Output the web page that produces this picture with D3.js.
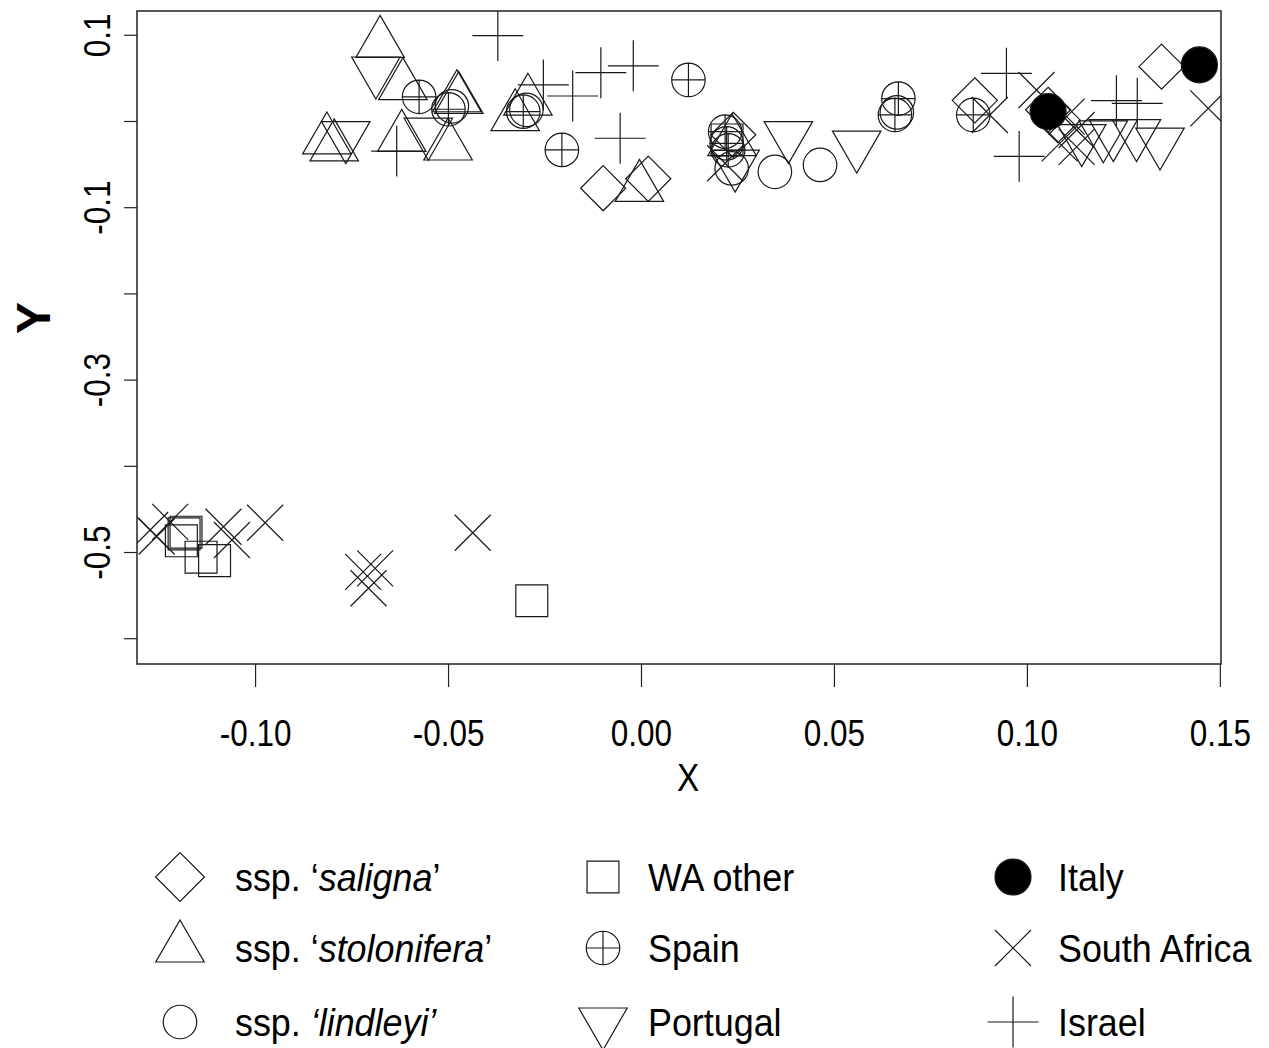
<!DOCTYPE html>
<html>
<head>
<meta charset="utf-8">
<script src="https://cdn.jsdelivr.net/npm/d3@7"></script>
<style>
  html, body { margin: 0; padding: 0; background: #fff; }
  svg { display: block; }
  text { font-family: "Liberation Sans", Arial, sans-serif; fill: #000; }
</style>
</head>
<body>
<script>
// Ordination scores, one array of [X, Y] pairs per group
const saligna = [
  [-0.0098, -0.078], [0.0019, -0.067], [0.0239, -0.016], [0.0865, 0.024],
  [0.1055, 0.013], [0.1080, 0.001], [0.1349, 0.063]
];
const stolonifera = [
  [-0.0676, 0.090], [-0.0617, 0.041], [-0.0814, -0.022], [-0.0795, -0.030],
  [-0.0620, -0.019], [-0.0477, 0.027], [-0.0472, 0.025], [-0.0500, -0.029],
  [-0.0293, 0.023], [-0.0326, 0.005], [-0.0004, -0.077], [0.0236, -0.024]
];
const lindleyi = [
  [-0.0297, 0.013], [-0.0490, 0.017], [0.0235, -0.055], [0.0347, -0.059],
  [0.0464, -0.051], [0.0663, 0.010]
];
const waOther = [
  [-0.1184, -0.479], [-0.1179, -0.477], [-0.1191, -0.487], [-0.1140, -0.506],
  [-0.1105, -0.510], [-0.0283, -0.5565], [0.0223, -0.022]
];
const spain = [
  [-0.0575, 0.028], [-0.0499, 0.0136], [-0.0305, 0.0108], [-0.0205, -0.0336],
  [0.0123, 0.0476], [0.0218, -0.0124], [0.0222, -0.026], [0.0226, -0.034],
  [0.0667, 0.026], [0.0658, 0.007], [0.0861, 0.007]
];
const portugal = [
  [-0.0687, 0.058], [-0.0765, -0.017], [-0.0551, -0.013], [0.0382, -0.017],
  [0.0559, -0.028], [0.0244, -0.050], [0.1142, -0.0205], [0.1198, -0.016],
  [0.1224, -0.0147], [0.1284, -0.0147], [0.1345, -0.0244]
];
const italy = [
  [0.1055, 0.0108], [0.1447, 0.065]
];
const southAfrica = [
  [0.0904, 0.007], [0.1025, 0.036], [0.1103, 0.005], [0.1129, -0.0104],
  [0.1085, -0.026], [0.1129, -0.030], [0.1470, 0.0147], [0.0218, -0.049],
  [-0.0974, -0.466], [-0.0436, -0.4776], [-0.0720, -0.523], [-0.0689, -0.519],
  [-0.0706, -0.542], [-0.1272, -0.4745], [-0.1255, -0.482], [-0.1220, -0.465],
  [-0.1082, -0.4707], [-0.1060, -0.486]
];
const israel = [
  [-0.0371, 0.099], [-0.0253, 0.0418], [-0.0177, 0.029], [-0.0104, 0.056],
  [-0.0020, 0.064], [-0.0054, -0.020], [-0.0633, -0.035], [0.0947, 0.0553],
  [0.0980, -0.041], [0.1232, 0.0236], [0.1286, 0.0205]
];

const xTicks = [-0.10, -0.05, 0.00, 0.05, 0.10, 0.15];
const yTicks = [0.1, 0.0, -0.1, -0.2, -0.3, -0.4, -0.5, -0.6];
// only every other y tick carries a label
const yTickLabels = ["0.1", "", "-0.1", "", "-0.3", "", "-0.5", ""];

const W = 1269, H = 1048;
const plot = { left: 137, right: 1221, top: 11, bottom: 664 };

const x = d3.scaleLinear().domain([-0.1306, 0.1503]).range([plot.left, plot.right]);
const y = d3.scaleLinear().domain([0.1276, -0.6299]).range([plot.top, plot.bottom]);

const svg = d3.select("body").append("svg").attr("width", W).attr("height", H);

svg.append("defs").append("clipPath").attr("id", "plotclip")
  .append("rect")
  .attr("x", plot.left).attr("y", plot.top)
  .attr("width", plot.right - plot.left).attr("height", plot.bottom - plot.top);

// Symbol shapes (R-style pch glyphs), r = symbol radius in px
const R = 18;
const shapes = {
  diamond: r => { const d = 1.253 * r; return `M0,${-d}L${d},0L0,${d}L${-d},0Z`; },
  triUp: r => `M0,${-1.555 * r}L${1.347 * r},${0.778 * r}L${-1.347 * r},${0.778 * r}Z`,
  triDown: r => `M0,${1.555 * r}L${1.347 * r},${-0.778 * r}L${-1.347 * r},${-0.778 * r}Z`,
  circle: r => { const c = r * 0.93; return `M${c},0A${c},${c} 0 1,1 ${-c},0A${c},${c} 0 1,1 ${c},0Z`; },
  square: r => { const s = 0.886 * r; return `M${-s},${-s}H${s}V${s}H${-s}Z`; },
  circlePlus: r => { const c = r * 0.93; return `M${c},0A${c},${c} 0 1,1 ${-c},0A${c},${c} 0 1,1 ${c},0Z M${-c},0H${c} M0,${-c}V${c}`; },
  dot: r => `M${r},0A${r},${r} 0 1,1 ${-r},0A${r},${r} 0 1,1 ${r},0Z`,
  cross: r => `M${-r},${-r}L${r},${r}M${-r},${r}L${r},${-r}`,
  plus: r => { const p = 1.414 * r; return `M${-p},0H${p}M0,${-p}V${p}`; }
};

const groups = [
  { data: saligna, shape: "diamond", fill: "none" },
  { data: stolonifera, shape: "triUp", fill: "none" },
  { data: lindleyi, shape: "circle", fill: "none" },
  { data: waOther, shape: "square", fill: "none" },
  { data: spain, shape: "circlePlus", fill: "none" },
  { data: portugal, shape: "triDown", fill: "none" },
  { data: southAfrica, shape: "cross", fill: "none" },
  { data: israel, shape: "plus", fill: "none" },
  { data: italy, shape: "dot", fill: "#000" }
];

const pts = svg.append("g").attr("clip-path", "url(#plotclip)");
groups.forEach(g => {
  pts.append("g").selectAll("path").data(g.data).join("path")
    .attr("transform", d => `translate(${x(d[0])},${y(d[1])})`)
    .attr("d", shapes[g.shape](R))
    .attr("fill", g.fill)
    .attr("stroke", "#1a1a1a")
    .attr("stroke-width", 1.2);
});

// Plot frame
svg.append("rect")
  .attr("x", plot.left).attr("y", plot.top)
  .attr("width", plot.right - plot.left).attr("height", plot.bottom - plot.top)
  .attr("fill", "none").attr("stroke", "#222").attr("stroke-width", 1.5);

// X axis (ASCII hyphen for negatives)
const xAxis = svg.append("g").attr("transform", `translate(0,${plot.bottom})`)
  .call(d3.axisBottom(x).tickValues(xTicks).tickSize(23).tickFormat(d => d.toFixed(2)));
xAxis.select(".domain").remove();
xAxis.selectAll(".tick line").attr("stroke", "#222").attr("stroke-width", 1.2);
xAxis.selectAll(".tick text")
  .attr("y", 0).attr("dy", 0)
  .attr("transform", "translate(0,69) scale(0.9,1.05)")
  .attr("dominant-baseline", "central")
  .style("font-size", "35px");

// Y axis
const yAxis = svg.append("g").attr("transform", `translate(${plot.left},0)`)
  .call(d3.axisLeft(y).tickValues(yTicks).tickSize(13)
    .tickFormat((d, i) => yTickLabels[i]));
yAxis.select(".domain").remove();
yAxis.selectAll(".tick line").attr("stroke", "#222").attr("stroke-width", 1.2);
yAxis.selectAll(".tick text")
  .attr("x", 0).attr("dy", 0)
  .attr("text-anchor", "middle")
  .attr("dominant-baseline", "central")
  .attr("transform", "translate(-40,0) rotate(-90) scale(0.9,1.05)")
  .style("font-size", "35px");

// Axis titles
svg.append("text")
  .attr("transform", "translate(688,778) scale(0.9,1.05)")
  .attr("text-anchor", "middle").attr("dominant-baseline", "central")
  .style("font-size", "37px").text("X");
svg.append("text")
  .attr("transform", "translate(33,318) rotate(-90)")
  .attr("text-anchor", "middle").attr("dominant-baseline", "central")
  .style("font-size", "48px").style("font-weight", "bold").text("Y");

// Legend
const legendItems = [
  { shape: "diamond", fill: "none", col: 0, row: 0, parts: [["ssp. ‘", false], ["saligna", true], ["’", false]] },
  { shape: "triUp", fill: "none", col: 0, row: 1, parts: [["ssp. ‘", false], ["stolonifera", true], ["’", false]] },
  { shape: "circle", fill: "none", col: 0, row: 2, parts: [["ssp. ", false], ["‘lindleyi’", true]] },
  { shape: "square", fill: "none", col: 1, row: 0, parts: [["WA other", false]] },
  { shape: "circlePlus", fill: "none", col: 1, row: 1, parts: [["Spain", false]] },
  { shape: "triDown", fill: "none", col: 1, row: 2, parts: [["Portugal", false]] },
  { shape: "dot", fill: "#000", col: 2, row: 0, parts: [["Italy", false]] },
  { shape: "cross", fill: "none", col: 2, row: 1, parts: [["South Africa", false]] },
  { shape: "plus", fill: "none", col: 2, row: 2, parts: [["Israel", false]] }
];
const colSym = [180, 603, 1013];
const colTxt = [235, 648, 1058];
const rowY = [877, 948, 1022];

const legend = svg.append("g");
legendItems.forEach(it => {
  legend.append("path")
    .attr("transform", `translate(${colSym[it.col]},${rowY[it.row]})`)
    .attr("d", shapes[it.shape](it.shape === "diamond" ? 19.5 : R))
    .attr("fill", it.fill).attr("stroke", "#1a1a1a").attr("stroke-width", 1.2);
  const t = legend.append("text")
    .attr("transform", `translate(${colTxt[it.col]},${rowY[it.row]}) scale(0.97,1.05)`)
    .attr("dominant-baseline", "central")
    .style("font-size", "37px");
  it.parts.forEach(p => {
    t.append("tspan").style("font-style", p[1] ? "italic" : "normal").text(p[0]);
  });
});
</script>
</body>
</html>
